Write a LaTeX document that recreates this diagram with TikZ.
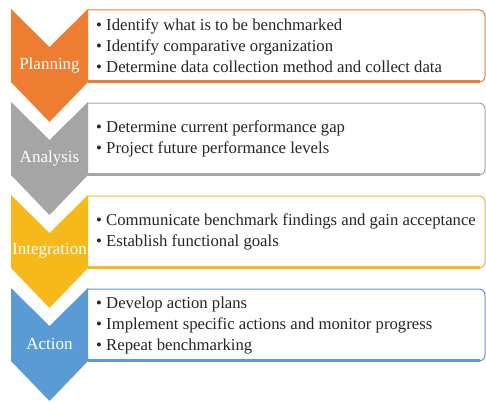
\documentclass[tikz,border=0pt]{standalone}
\usepackage{fontspec}
\setmainfont{Liberation Serif}
\newfontfamily\chartfont{Liberation Serif}
\usepackage{tikz}
\usetikzlibrary{positioning}
\definecolor{planC}{HTML}{ED7D31}
\definecolor{anaC}{HTML}{A5A5A5}
\definecolor{intC}{HTML}{F6B91C}
\definecolor{actC}{HTML}{5B9BD5}
\tikzset{phase/.style={text=white,font=\chartfont\fontsize{17}{17}\selectfont,inner sep=0pt}, points/.style={anchor=west,align=left,font=\chartfont\fontsize{16.7}{21}\selectfont,inner sep=0pt,text=black!85}, panel/.style={fill=white,line width=1pt,rounded corners=6pt}, base/.style={line width=2.2pt}}

\begin{document}
\begin{tikzpicture}[x=1pt,y=-1pt]
\useasboundingbox (0,0) rectangle (486,401);
% panels
\draw[panel,draw=planC] (88,10) -- (485,10) -- (485,82) -- (88,82);
\draw[panel,draw=anaC] (88,103) -- (485,103) -- (485,175) -- (88,175);
\draw[panel,draw=intC] (88,196) -- (485,196) -- (485,268) -- (88,268);
\draw[panel,draw=actC] (88,289) -- (485,289) -- (485,361) -- (88,361);
\draw[base,planC] (88,81.5) -- (480,81.5);
\draw[base,anaC] (88,174.5) -- (480,174.5);
\draw[base,intC] (88,267.5) -- (480,267.5);
\draw[base,actC] (88,360.5) -- (480,360.5);
% chevrons
\fill[planC] (11,9) -- (49.5,47) -- (88,9) -- (88,82) -- (49.5,122) -- (11,82) -- cycle;
\fill[anaC] (11,102) -- (49.5,140) -- (88,102) -- (88,175) -- (49.5,215) -- (11,175) -- cycle;
\fill[intC] (11,195) -- (49.5,233) -- (88,195) -- (88,268) -- (49.5,308) -- (11,268) -- cycle;
\fill[actC] (11,288) -- (49.5,326) -- (88,288) -- (88,361) -- (49.5,401) -- (11,361) -- cycle;
\node[phase] (plan) at (49.5,65) {Planning};
\node[phase] (ana) at (49.5,158) {Analysis};
\node[phase] (integ) at (49.5,251) {Integration};
\node[phase] (act) at (49.5,344) {Action};
% bullet texts
\node[points] (plantx) at (96,46) {\textbullet\ Identify what is to be benchmarked\\\textbullet\ Identify comparative organization\\\textbullet\ Determine data collection method and collect data};
\node[points] (anatx) at (96,139) {\textbullet\ Determine current performance gap\\\textbullet\ Project future performance levels};
\node[points] (integtx) at (96,232) {\textbullet\ Communicate benchmark findings and gain acceptance\\\textbullet\ Establish functional goals};
\node[points] (acttx) at (96,326) {\textbullet\ Develop action plans\\\textbullet\ Implement specific actions and monitor progress\\\textbullet\ Repeat benchmarking};
\end{tikzpicture}
\end{document}
